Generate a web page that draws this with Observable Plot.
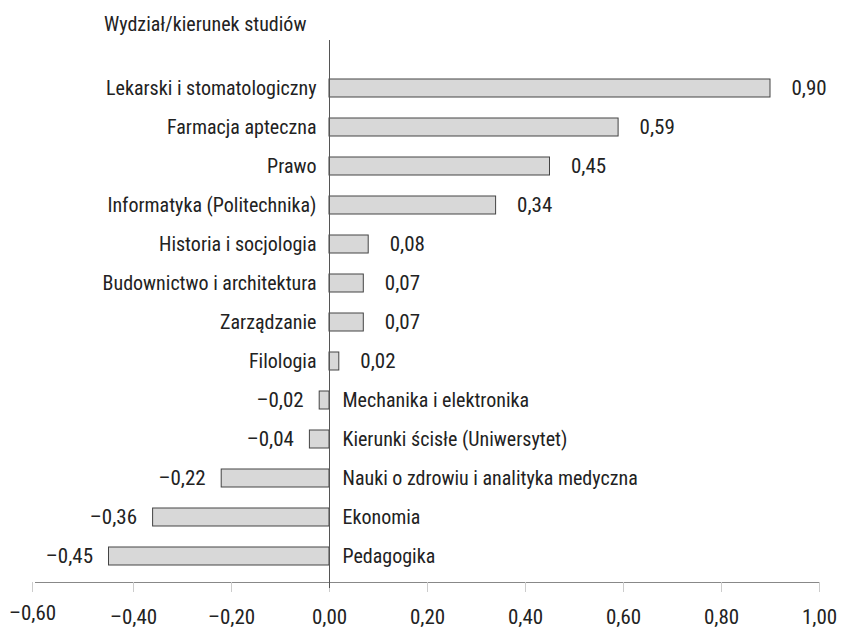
<!DOCTYPE html>
<html>
<head>
<meta charset="utf-8">
<script src="https://cdn.jsdelivr.net/npm/d3@7"></script>
<script src="https://cdn.jsdelivr.net/npm/@observablehq/plot@0.6"></script>
<style>
  body { margin: 0; background: #fff; font-family: "Liberation Sans Narrow", "Roboto Condensed", "DejaVu Sans Condensed", sans-serif; color: #222; }
  #wrap { position: relative; width: 841px; height: 630px; }
  #title { position: absolute; left: 104px; top: 12px; font-size: 20px; line-height: 24px; color: #222; }
  #chart { position: absolute; left: 0; top: 40px; }
</style>
</head>
<body>
<div id="wrap">
  <div id="title">Wydział/kierunek studiów</div>
  <div id="chart"></div>
</div>
<script>
const categories = [
  "Lekarski i stomatologiczny",
  "Farmacja apteczna",
  "Prawo",
  "Informatyka (Politechnika)",
  "Historia i socjologia",
  "Budownictwo i architektura",
  "Zarządzanie",
  "Filologia",
  "Mechanika i elektronika",
  "Kierunki ścisłe (Uniwersytet)",
  "Nauki o zdrowiu i analityka medyczna",
  "Ekonomia",
  "Pedagogika"
];
const values = [0.90, 0.59, 0.45, 0.34, 0.08, 0.07, 0.07, 0.02, -0.02, -0.04, -0.22, -0.36, -0.45];
const xTicks = [-0.6, -0.4, -0.2, 0, 0.2, 0.4, 0.6, 0.8, 1.0];

const data = categories.map((c, i) => ({category: c, value: values[i]}));
const fmt = v => (v < 0 ? "–" : "") + Math.abs(v).toFixed(2).replace(".", ",");
const font = "Liberation Sans Narrow, Roboto Condensed, DejaVu Sans Condensed, sans-serif";

const plot = Plot.plot({
  width: 841,
  height: 590,
  marginTop: 0,
  marginBottom: 48,
  marginLeft: 35,
  marginRight: 22,
  style: {fontFamily: font, fontSize: "20px", color: "#222", background: "#fff", overflow: "visible"},
  x: {domain: [-0.6, 1.0], label: null},
  y: {domain: categories, range: [23, 541], paddingInner: 0.55, paddingOuter: 0.275, axis: null},
  marks: [
    Plot.frame({anchor: "bottom", stroke: "#888"}),
    Plot.axisX({ticks: xTicks.filter(t => t !== -0.6), tickFormat: fmt, tickSize: 10, tickPadding: 17, stroke: "#ccc", fill: "#222", fontSize: 21, label: null}),
    Plot.axisX({ticks: xTicks.filter(t => t === -0.6), tickFormat: fmt, tickSize: 10, tickPadding: 13, stroke: "#ccc", fill: "#222", fontSize: 21, label: null, dx: -3}),
    Plot.barX(data, {x: "value", y: "category", fill: "#d8d8d8", stroke: "#444", strokeWidth: 1}),
    Plot.ruleX([0], {stroke: "#555", strokeWidth: 1, insetBottom: -6}),
    Plot.text(data.filter(d => d.value >= 0), {x: 0, y: "category", text: "category", textAnchor: "end", dx: -13, fill: "#222"}),
    Plot.text(data.filter(d => d.value < 0), {x: 0, y: "category", text: "category", textAnchor: "start", dx: 13, fill: "#222"}),
    Plot.text(data.filter(d => d.value >= 0), {x: "value", y: "category", text: d => fmt(d.value), textAnchor: "start", dx: 21, fill: "#222", fontSize: 21}),
    Plot.text(data.filter(d => d.value < 0), {x: "value", y: "category", text: d => fmt(d.value), textAnchor: "end", dx: -16, fill: "#222", fontSize: 21})
  ]
});
document.getElementById("chart").appendChild(plot);
</script>
</body>
</html>
